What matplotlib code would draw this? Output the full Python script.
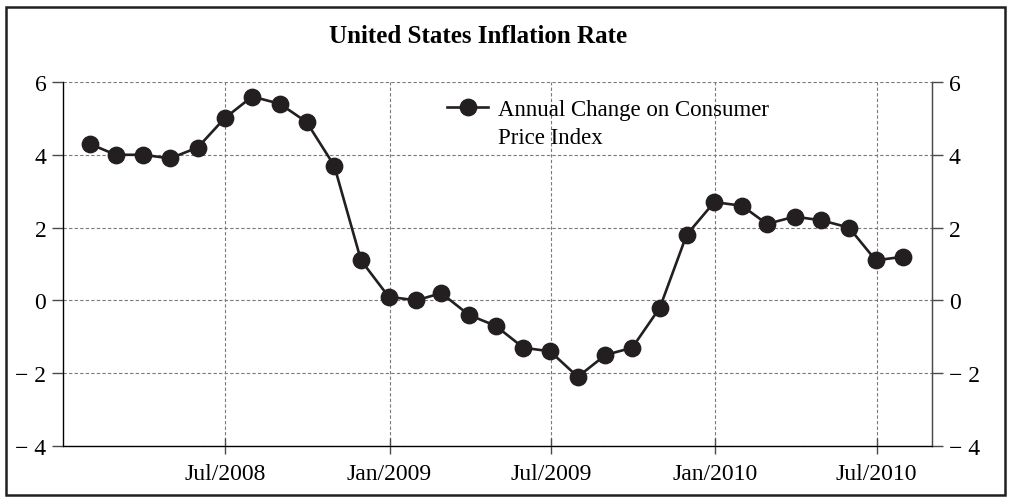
import numpy as np
import pandas as pd
import matplotlib
matplotlib.use("Agg")
import matplotlib.pyplot as plt
import matplotlib.dates as mdates
from matplotlib.patches import Rectangle

plt.rcParams['font.family'] = ['Liberation Serif', 'DejaVu Serif']

# monthly CPI annual change, plotted at month end (Jan 2008 .. Jul 2010)
dates = pd.date_range("2008-01-31", "2010-07-31", freq="ME")
values = [4.3, 4.0, 4.0, 3.9, 4.2, 5.0, 5.6, 5.4, 4.9, 3.7, 1.1, 0.1,
          0.0, 0.2, -0.4, -0.7, -1.3, -1.4, -2.1, -1.5, -1.3, -0.2, 1.8, 2.7,
          2.6, 2.1, 2.3, 2.2, 2.0, 1.1, 1.2]
yticks = [-4, -2, 0, 2, 4, 6]
xticks = pd.to_datetime(["2008-07-01", "2009-01-01", "2009-07-01",
                         "2010-01-01", "2010-07-01"])
title = "United States Inflation Rate"
label_lines = ["Annual Change on Consumer", "Price Index"]

ink = "#231f20"
fig = plt.figure(figsize=(10.15, 5.02), dpi=100)
ax = fig.add_axes([0.0621, 0.1096, 0.8561, 0.7251])

ax.plot(dates, values, color=ink, lw=1.9, marker="o", ms=11.8,
        label=label_lines[0], zorder=3)

ax.set_xlim(pd.Timestamp("2008-01-01"), pd.Timestamp("2010-09-01"))
ax.set_ylim(-4, 6)
ax.set_xticks(xticks)
ax.xaxis.set_major_formatter(mdates.DateFormatter("%b/%Y"))
ax.set_yticks(yticks)

def fmt(v):
    return ("\u2212 %d" % abs(v)) if v < 0 else "%d" % v

ax.set_yticklabels([fmt(v) for v in yticks])
ax.grid(True, ls=(0, (3, 2)), color="#7a7a7a", lw=0.8)
ax.spines["top"].set_visible(False)
for s in ["left", "right", "bottom"]:
    ax.spines[s].set_color("#4a4a4a")
    ax.spines[s].set_linewidth(1.0)
ax.tick_params(axis="y", direction="out", length=8, width=1.0,
               color="#4a4a4a", labelsize=17, pad=4)
ax.tick_params(axis="x", direction="inout", length=12, width=1.0,
               color="#4a4a4a", labelsize=17, pad=6)

ax2 = ax.twinx()
ax2.set_ylim(-4, 6)
ax2.set_yticks(yticks)
ax2.set_yticklabels([fmt(v) for v in yticks])
ax2.spines["top"].set_visible(False)
ax2.spines["right"].set_color("#4a4a4a")
ax2.tick_params(axis="y", direction="out", length=8, width=1.0,
                color="#4a4a4a", labelsize=17, pad=4)

leg = ax.legend(loc="upper left", bbox_to_anchor=(0.4315, 0.978), frameon=False,
                fontsize=16.5, handlelength=1.8, handletextpad=0.4,
                borderaxespad=0)

fig.text(0.471, 0.928, title, ha="center", va="center",
         fontsize=18, fontweight="bold")

# second line of the legend label, set under the first
fig.canvas.draw()
bb = leg.get_texts()[0].get_window_extent()
fig.text(bb.x0 / 1015, (bb.y0 - 28) / 502, label_lines[1],
         fontsize=16.5, ha="left", va="bottom")

fig.patches.append(Rectangle((6 / 1015, 6 / 502), 999 / 1015, 488 / 502,
                             transform=fig.transFigure, fill=False,
                             edgecolor=ink, lw=1.8))

fig.savefig("out.png", dpi=100)
